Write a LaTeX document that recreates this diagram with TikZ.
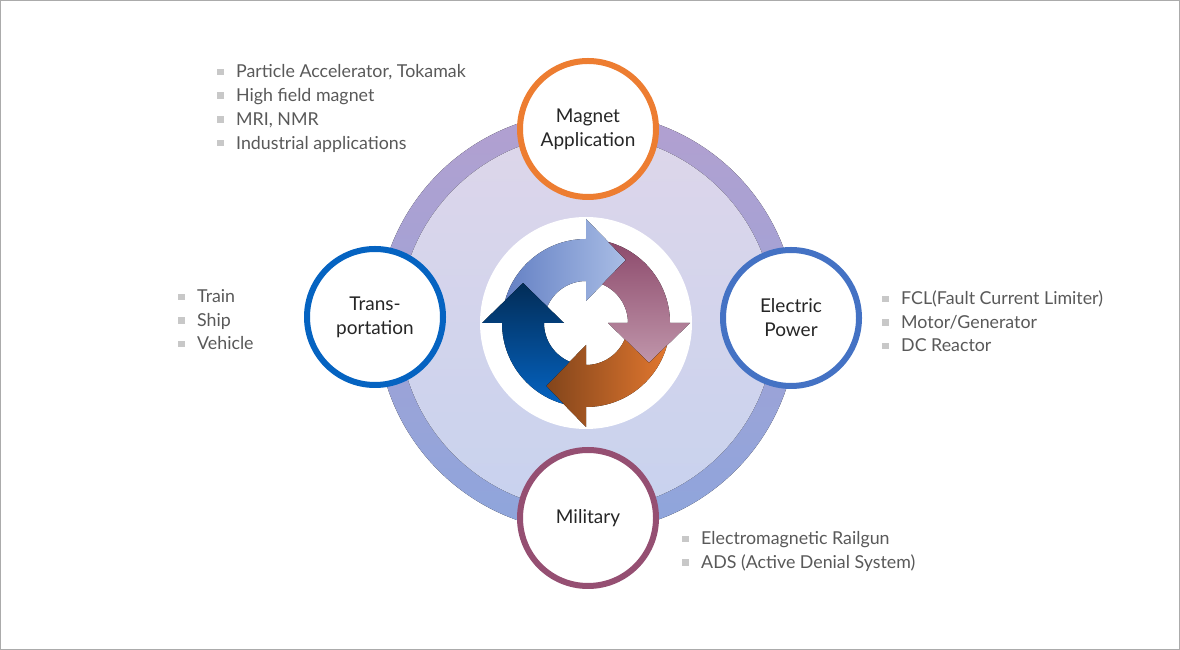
\documentclass[tikz,border=0pt]{standalone}
\usepackage{fontspec}
\setmainfont{Lato}
\usetikzlibrary{
    shapes,% circles
    positioning% wg. " of "
}

\definecolor{magorange}{HTML}{ED7D31}
\definecolor{transblue}{HTML}{0563C1}
\definecolor{elecblue}{HTML}{4472C4}
\definecolor{milmauve}{HTML}{954F72}
\definecolor{ringtop}{HTML}{B2A0D0}
\definecolor{ringbot}{HTML}{8EA5DC}
\definecolor{disktop}{HTML}{DDD6EA}
\definecolor{diskbot}{HTML}{C8D2EE}
\definecolor{listgray}{HTML}{595959}
\definecolor{bulgray}{HTML}{C8C8C8}
\definecolor{framegray}{HTML}{ABABAB}
\definecolor{lightdark}{HTML}{6480C4}
\definecolor{lightpale}{HTML}{A9BDE5}

% small grey square in front of every item
\newcommand{\bul}{\textcolor{bulgray}{\rule[2.8pt]{6.5pt}{6.5pt}}\hspace{12.5pt}}

% one bent arrow of the cycle, turned by #1 degrees
\newcommand{\cycarrow}[1]{({157.2+#1}:42) -- ({147.6+#1}:74.6) -- ({164.5+#1}:84)
    arc[start angle={164.5+#1}, end angle={90+#1}, radius=84]
    -- ({90+#1}:104) -- ({57.6+#1}:74.6) -- ({90+#1}:22) -- ({90+#1}:42)
    arc[start angle={90+#1}, end angle={157.2+#1}, radius=42] -- cycle}

\tikzset{
    appcircle/.style={circle, draw=#1, line width=6pt, fill=white,
        minimum size=136pt, inner sep=0pt, align=center, text=black!85,
        font=\fontsize{19}{24}\selectfont},
    listitem/.style={anchor=base west, inner sep=0pt, text=listgray,
        font=\fontsize{17.8}{20}\selectfont},
    arrowlight/.style={left color=lightdark, right color=lightpale},
    arrowmauve/.style={top color=milmauve!95!black, bottom color=milmauve!60!white},
    arroworange/.style={left color=magorange!55!black, right color=magorange!95!black},
    arrowdark/.style={top color=transblue!45!black, bottom color=transblue}
}

\begin{document}
\begin{tikzpicture}[x=1pt,y=1pt]
    \useasboundingbox (0,0) rectangle (1180,650);
    \draw[framegray, fill=white] (0.5,0.5) rectangle (1179.5,649.5);

    %%% big ring and the light disk inside it
    \fill[top color=ringtop, bottom color=ringbot] (587,328) circle (210);
    \fill[top color=disktop, bottom color=diskbot] (587,328) circle (188);
    \fill[white] (586,327) circle (106);

    %%% the four arrows of the cycle
    \begin{scope}[shift={(586,327)}]
        \fill[arrowlight] \cycarrow{0};
        \fill[arrowmauve] \cycarrow{-90};
        \fill[arroworange] \cycarrow{-180};
        \fill[arrowdark] \cycarrow{-270};
    \end{scope}

    %%% application circles
    \node[appcircle=magorange] (mag) at (588,521) {Magnet\\Application};
    \node[appcircle=transblue] (trans) at (375,333) {Trans-\\portation};
    \node[appcircle=elecblue] (elec) at (791,332) {Electric\\Power};
    \node[appcircle=milmauve] (mil) at (588,132) {Military};

    %%% item lists
    \foreach \t [count=\i] in {{Particle Accelerator, Tokamak}, High field magnet,
        {MRI, NMR}, Industrial applications}
        \node[listitem] (magitem\i) at (217,{572-(\i-1)*23.67}) {\bul\t};

    \foreach \t [count=\i] in {Train, Ship, Vehicle}
        \node[listitem] (transitem\i) at (178,{347-(\i-1)*23.5}) {\bul\t};

    \foreach \t [count=\i] in {FCL(Fault Current Limiter), Motor/Generator, DC Reactor}
        \node[listitem] (elecitem\i) at (882,{345-(\i-1)*23.5}) {\bul\t};

    \foreach \t [count=\i] in {Electromagnetic Railgun, ADS (Active Denial System)}
        \node[listitem] (militem\i) at (682,{105-(\i-1)*23.5}) {\bul\t};
\end{tikzpicture}
\end{document}
